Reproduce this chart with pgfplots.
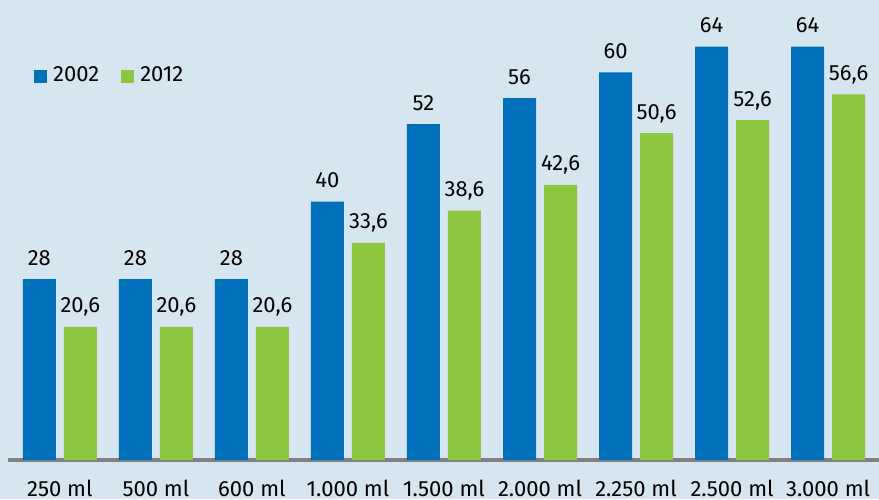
\documentclass[border=0pt]{standalone}
\usepackage{pgfplots}
\pgfplotsset{compat=1.18}
\usepackage{fontspec}
\setmainfont{Fira Sans}
\definecolor{bg}{HTML}{D6E6F0}
\definecolor{cblue}{HTML}{0070BA}
\definecolor{cgreen}{HTML}{8DC63F}
\definecolor{cgray}{HTML}{808285}
\begin{document}
\begin{tikzpicture}[font=\fontsize{22pt}{26pt}\selectfont]
\fill[bg] (0,0) rectangle (879pt,499pt);
\begin{axis}[
  at={(8pt,39pt)}, anchor=south west, scale only axis,
  width=871pt, height=460pt,
  xmin=-0.54, xmax=8.53, ymin=0, ymax=71.2,
  ybar, bar width=33pt, clip=false,
  axis x line*=bottom, axis y line=none,
  x axis line style={cgray, line width=3.5pt, -},
  xtick={0,1,2,3,4,5,6,7,8},
  xticklabels={250 ml,500 ml,600 ml,1.000 ml,1.500 ml,2.000 ml,2.250 ml,2.500 ml,3.000 ml},
  major tick length=0pt,
  xticklabel style={anchor=base, yshift=-36pt, inner sep=0pt},
  /pgf/number format/assume math mode=true,
  /pgf/number format/use comma, /pgf/number format/fixed, /pgf/number format/precision=1,
  nodes near coords,
  nodes near coords style={anchor=base, inner sep=0pt, yshift=14pt, text=black},
  legend columns=2,
  legend image code/.code={\fill[#1] (0pt,-0.2em) rectangle (13pt,13pt-0.2em);},
  legend style={draw=none, fill=none, inner sep=0pt, at={(rel axis cs:0.02985,0.8565)}, anchor=north west,
    nodes={inner sep=0pt, anchor=base west},
    /tikz/every odd column/.append style={column sep=6pt},
    /tikz/every even column/.append style={column sep=22pt}},
]
\addplot[fill=cblue, draw=none, bar shift=-20.5pt] coordinates {
  (0,28) (1,28) (2,28) (3,40) (4,52) (5,56) (6,60) (7,64) (8,64)};
\addlegendentry{2002}
\addplot[fill=cgreen, draw=none, bar shift=20.5pt] coordinates {
  (0,20.6) (1,20.6) (2,20.6) (3,33.6) (4,38.6) (5,42.6) (6,50.6) (7,52.6) (8,56.6)};
\addlegendentry{2012}
\end{axis}
\pgfresetboundingbox
\path[use as bounding box] (0,0) rectangle (879pt,499pt);
\end{tikzpicture}
\end{document}
